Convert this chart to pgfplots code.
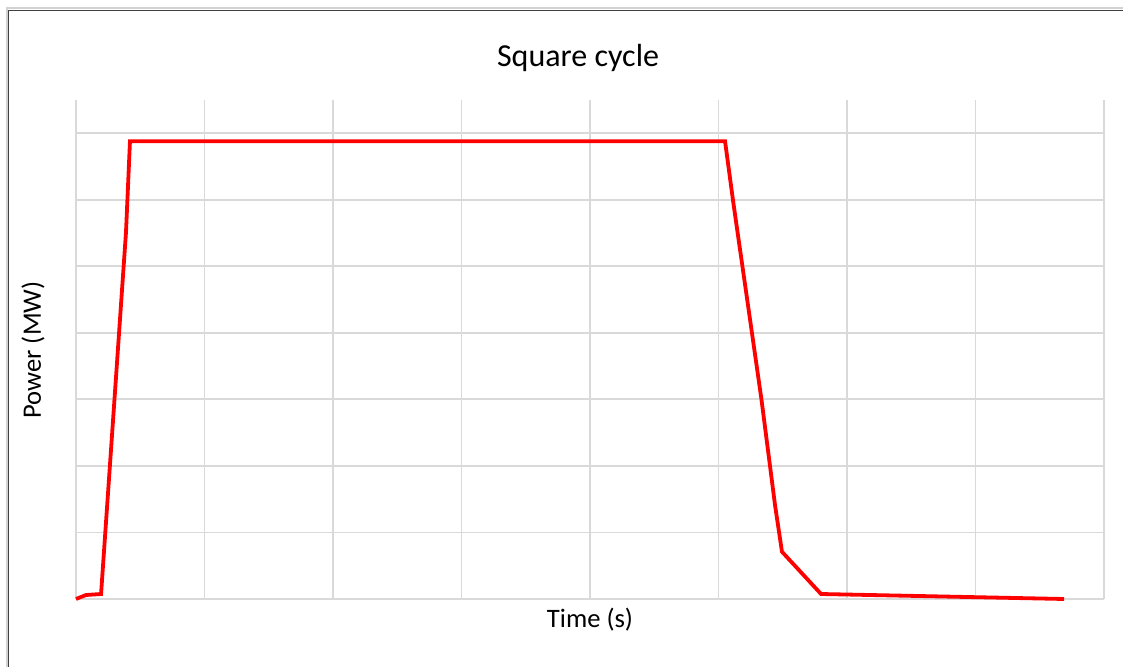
\documentclass[border=0pt]{standalone}
\usepackage{pgfplots}
\pgfplotsset{compat=1.18}
\usepackage{fontspec}
\setmainfont{Carlito}
\definecolor{gridgray}{HTML}{D9D9D9}
\begin{document}
\begin{tikzpicture}
\begin{scope}[x=0.5pt,y=0.5pt]
\useasboundingbox (0,0) rectangle (1123,667);
\fill[white] (0,0) rectangle (1123,667);
\draw[line width=1pt, gray!35] (6.5,-10) -- (6.5,659) -- (1140,659);
\draw[line width=0.9pt, black!75] (8.5,-10) -- (8.5,656.5) -- (1140,656.5);
\end{scope}
\begin{axis}[
  at={(38pt,34pt)}, anchor=origin,
  scale only axis, width=514pt, height=249.5pt,
  xmin=0, xmax=8, ymin=0, ymax=7.5,
  xtick={0,1,...,8}, ytick={0,1,...,7},
  xticklabels={}, yticklabels={},
  major tick length=0pt,
  axis line style={draw=none},
  grid=major,
  major grid style={gridgray, line width=0.9pt},
  clip=false,
]
\addplot[red, line width=1.9pt, line join=miter] coordinates {
 (0,0) (0.078,0.06) (0.195,0.075) (0.389,5.51) (0.420,6.88)
 (5.051,6.88) (5.113,5.99) (5.335,2.99) (5.440,1.41) (5.494,0.71)
 (5.798,0.075) (7.689,0.0)
};
\end{axis}
\begin{scope}[x=0.5pt,y=0.5pt]
\node[font=\fontsize{16}{19}\selectfont] at (578,609) {Square cycle};
\node[font=\fontsize{13.3}{16}\selectfont] at (590,47) {Time (s)};
\node[font=\fontsize{13.3}{16}\selectfont, rotate=90] at (33,317) {Power (MW)};
\end{scope}
\end{tikzpicture}
\end{document}
